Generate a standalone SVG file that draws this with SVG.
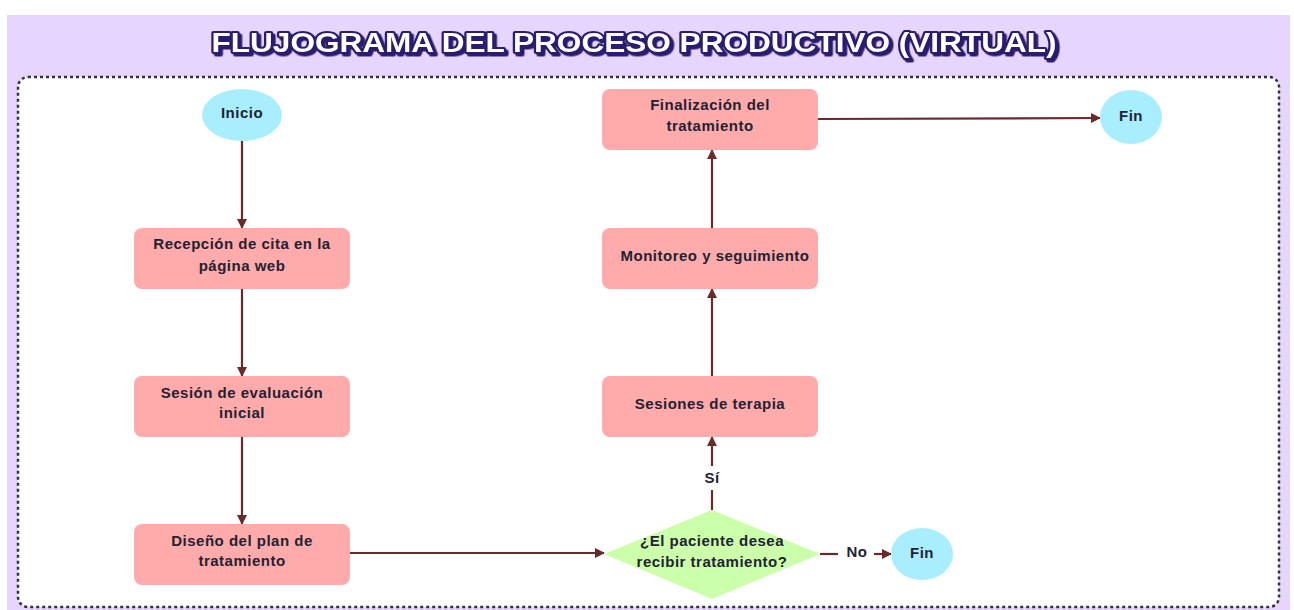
<svg xmlns="http://www.w3.org/2000/svg" width="1294" height="610" viewBox="0 0 1294 610">
<style>
.box{fill:#FFABAB;}
.term{fill:#A9EEFF;}
.dec{fill:#CCFFAA;}
.t{font-family:"Liberation Sans",Arial,sans-serif;font-weight:bold;font-size:15px;letter-spacing:0.5px;fill:#222233;text-anchor:middle;}
.c{stroke:#6B2A2A;stroke-width:2.2;fill:none;}
.title{font-family:"Liberation Sans",Arial,sans-serif;font-weight:bold;font-size:27px;text-anchor:middle;}
</style>
<defs>
<marker id="ah" viewBox="0 0 10 10" refX="9" refY="5" markerWidth="10" markerHeight="10" orient="auto" markerUnits="userSpaceOnUse">
<path d="M0,0 L10,5 L0,10 z" fill="#6B2A2A"/>
</marker>
<filter id="shadow" x="-5%" y="-50%" width="110%" height="200%">
<feDropShadow dx="2.5" dy="2.5" stdDeviation="0.3" flood-color="#2B1B6E" flood-opacity="1"/>
</filter>
</defs>
<rect x="0" y="0" width="1294" height="610" fill="#ffffff"/>
<rect x="7" y="15" width="1283" height="595" fill="#E6D5FC"/>
<rect x="18" y="77" width="1261" height="530" rx="10" fill="#ffffff" stroke="#333340" stroke-width="2.5" stroke-dasharray="3 3"/>
<g id="title" filter="url(#shadow)">
<text class="title" x="634" y="52" textLength="845" lengthAdjust="spacingAndGlyphs" fill="#ffffff" stroke="#2B1B6E" stroke-width="4" stroke-linejoin="round" paint-order="stroke">FLUJOGRAMA DEL PROCESO PRODUCTIVO (VIRTUAL)</text>
</g>
<g id="connectors">
<line class="c" x1="242" y1="141" x2="242" y2="228" marker-end="url(#ah)"/>
<line class="c" x1="242" y1="289" x2="242" y2="376" marker-end="url(#ah)"/>
<line class="c" x1="242" y1="437" x2="242" y2="524" marker-end="url(#ah)"/>
<line class="c" x1="350" y1="553" x2="604" y2="553" marker-end="url(#ah)"/>
<line class="c" x1="712" y1="510" x2="712" y2="490"/>
<line class="c" x1="712" y1="466" x2="712" y2="437" marker-end="url(#ah)"/>
<text class="t" x="712" y="483">Sí</text>
<line class="c" x1="712" y1="376" x2="712" y2="289" marker-end="url(#ah)"/>
<line class="c" x1="712" y1="228" x2="712" y2="150" marker-end="url(#ah)"/>
<line class="c" x1="818" y1="119" x2="1100" y2="118" marker-end="url(#ah)"/>
<line class="c" x1="820" y1="554" x2="838" y2="554"/>
<line class="c" x1="874" y1="554" x2="891" y2="554" marker-end="url(#ah)"/>
<text class="t" x="857" y="557">No</text>
</g>
<g id="inicio">
<ellipse class="term" cx="242" cy="115" rx="40" ry="26"/>
<text class="t" x="242" y="118">Inicio</text>
</g>
<g id="recepcion">
<rect class="box" x="134" y="228" width="216" height="61" rx="8"/>
<text class="t" x="242" y="249">Recepción de cita en la</text>
<text class="t" x="242" y="271">página web</text>
</g>
<g id="sesion">
<rect class="box" x="134" y="376" width="216" height="61" rx="8"/>
<text class="t" x="242" y="398">Sesión de evaluación</text>
<text class="t" x="242" y="418">inicial</text>
</g>
<g id="diseno">
<rect class="box" x="134" y="524" width="216" height="61" rx="8"/>
<text class="t" x="242" y="546">Diseño del plan de</text>
<text class="t" x="242" y="566">tratamiento</text>
</g>
<g id="decision">
<polygon class="dec" points="604,554 712,510 820,554 712,599"/>
<text class="t" x="712" y="546">¿El paciente desea</text>
<text class="t" x="712" y="567">recibir tratamiento?</text>
</g>
<g id="fin2">
<ellipse class="term" cx="922" cy="554" rx="31" ry="26"/>
<text class="t" x="922" y="558">Fin</text>
</g>
<g id="sesiones">
<rect class="box" x="602" y="376" width="216" height="61" rx="8"/>
<text class="t" x="710" y="409">Sesiones de terapia</text>
</g>
<g id="monitoreo">
<rect class="box" x="602" y="228" width="216" height="61" rx="8"/>
<text class="t" x="715" y="261">Monitoreo y seguimiento</text>
</g>
<g id="finalizacion">
<rect class="box" x="602" y="89" width="216" height="61" rx="8"/>
<text class="t" x="710" y="110">Finalización del</text>
<text class="t" x="710" y="131">tratamiento</text>
</g>
<g id="fin1">
<ellipse class="term" cx="1131" cy="117" rx="31" ry="27"/>
<text class="t" x="1131" y="121">Fin</text>
</g>
</svg>
